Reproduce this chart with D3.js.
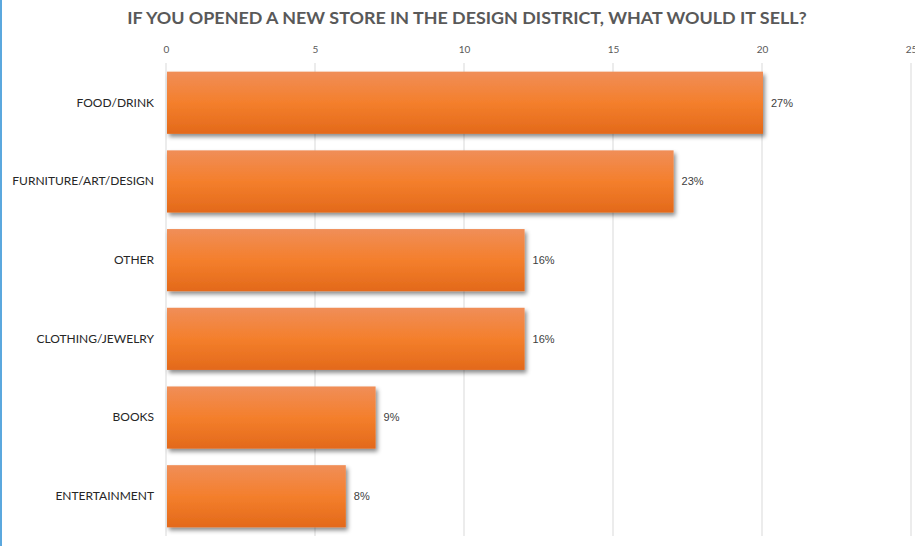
<!DOCTYPE html>
<html>
<head>
<meta charset="utf-8">
<script src="https://cdn.jsdelivr.net/npm/d3@7"></script>
<style>
  html, body { margin: 0; padding: 0; background: #fff; }
  svg { display: block; }
</style>
</head>
<body>
<svg id="chart" width="915" height="546"></svg>
<script>
// Survey answers: what a new store in the design district would sell
const categories = ["FOOD/DRINK", "FURNITURE/ART/DESIGN", "OTHER", "CLOTHING/JEWELRY", "BOOKS", "ENTERTAINMENT"];
const counts = [20, 17, 12, 12, 7, 6];
const shareLabels = ["27%", "23%", "16%", "16%", "9%", "8%"];
const xTicks = [0, 5, 10, 15, 20, 25];
const chartTitle = "IF YOU OPENED A NEW STORE IN THE DESIGN DISTRICT, WHAT WOULD IT SELL?";

const svg = d3.select("#chart");
const W = 915, H = 546;
const margin = { top: 63, right: 4, bottom: 10, left: 166 };

const defs = svg.append("defs");
const grad = defs.append("linearGradient")
  .attr("id", "barFill").attr("x1", 0).attr("y1", 0).attr("x2", 0).attr("y2", 1);
grad.append("stop").attr("offset", "0%").attr("stop-color", "#F08E58");
grad.append("stop").attr("offset", "50%").attr("stop-color", "#F47F2C");
grad.append("stop").attr("offset", "100%").attr("stop-color", "#E3691A");

const shadow = defs.append("filter").attr("id", "barShadow")
  .attr("x", "-5%").attr("y", "-20%").attr("width", "115%").attr("height", "150%");
shadow.append("feDropShadow").attr("dx", 2).attr("dy", 3).attr("stdDeviation", 2.2)
  .attr("flood-color", "#000").attr("flood-opacity", 0.45);

// left frame stripe
svg.append("rect").attr("x", 0).attr("y", 0).attr("width", 2).attr("height", H).attr("fill", "#5BA8DE");

const x = d3.scaleLinear().domain([0, 25]).range([margin.left, 911]);
const y = d3.scaleBand().domain(categories).range([margin.top, H - margin.bottom]).paddingInner(0.21).paddingOuter(0.11);

// title
svg.append("text")
  .attr("x", 467).attr("y", 24)
  .attr("text-anchor", "middle")
  .attr("font-family", "Lato, 'Open Sans', sans-serif")
  .attr("font-weight", "bold").attr("font-size", 17.9)
  .attr("fill", "#595959")
  .text(chartTitle);

// vertical gridlines
svg.append("g").selectAll("line").data(xTicks.slice(1)).join("line")
  .attr("x1", d => x(d)).attr("x2", d => x(d))
  .attr("y1", margin.top).attr("y2", H - margin.bottom)
  .attr("stroke", "#D9D9D9").attr("stroke-width", 1);

// top axis
const xAxis = d3.axisTop(x).tickValues(xTicks).tickSize(0).tickPadding(0);
const gx = svg.append("g").attr("transform", `translate(0,${margin.top - 10})`).call(xAxis);
gx.select(".domain").remove();
gx.selectAll("text")
  .attr("font-family", "Lato, 'Open Sans', sans-serif")
  .attr("font-size", 10).attr("fill", "#595959");

// category axis line
svg.append("line")
  .attr("x1", x(0)).attr("x2", x(0))
  .attr("y1", margin.top).attr("y2", H - margin.bottom)
  .attr("stroke", "#D9D9D9").attr("stroke-width", 1);

// bars
const rows = categories.map((c, i) => ({ c, v: counts[i], label: shareLabels[i] }));
svg.append("g").selectAll("rect").data(rows).join("rect")
  .attr("x", x(0) + 1)
  .attr("y", d => y(d.c))
  .attr("width", d => x(d.v) - x(0))
  .attr("height", y.bandwidth())
  .attr("fill", "url(#barFill)")
  .attr("filter", "url(#barShadow)");

// category labels
const yAxis = d3.axisLeft(y).tickSize(0).tickPadding(12);
const gy = svg.append("g").attr("transform", `translate(${x(0)},0)`).call(yAxis);
gy.select(".domain").remove();
gy.selectAll("text")
  .attr("font-family", "Lato, 'Open Sans', sans-serif")
  .attr("font-size", 12).attr("fill", "#262626");

// value labels
svg.append("g").selectAll("text").data(rows).join("text")
  .attr("x", d => x(d.v) + 9)
  .attr("y", d => y(d.c) + y.bandwidth() / 2)
  .attr("dy", "0.35em")
  .attr("font-family", "'Liberation Sans', Arial, sans-serif")
  .attr("font-size", 11).attr("fill", "#404040")
  .text(d => d.label);
</script>
</body>
</html>
